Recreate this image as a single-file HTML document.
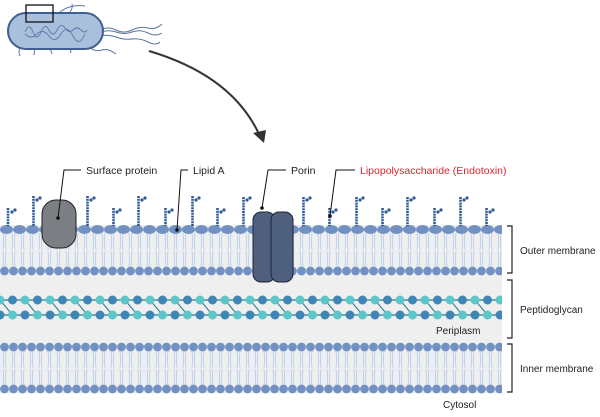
<!DOCTYPE html>
<html><head><style>
body{margin:0;background:#fff;width:600px;height:412px;overflow:hidden}
text{font-family:"Liberation Sans",sans-serif;font-size:10.5px;fill:#222}
</style></head><body>
<svg width="600" height="412" viewBox="0 0 600 412" xmlns="http://www.w3.org/2000/svg">
<defs>
<pattern id="topHeads" x="0" y="224" width="13" height="12" patternUnits="userSpaceOnUse">
<ellipse cx="6.5" cy="5.5" rx="6.5" ry="4.5" fill="#7291c3"/>
</pattern>
<pattern id="circA" x="0" y="265" width="9" height="12" patternUnits="userSpaceOnUse">
<circle cx="4.5" cy="6" r="4.4" fill="#7291c3"/>
</pattern>
<pattern id="circB" x="0" y="341" width="9" height="12" patternUnits="userSpaceOnUse">
<circle cx="4.5" cy="6" r="4.4" fill="#7291c3"/>
</pattern>
<pattern id="circC" x="0" y="383" width="9" height="12" patternUnits="userSpaceOnUse">
<circle cx="4.5" cy="6" r="4.4" fill="#7291c3"/>
</pattern>
<pattern id="tailsO" x="0" y="233" width="9" height="35" patternUnits="userSpaceOnUse">
<path d="M3 0 Q4 8 3 17 M6 0 Q5 8 6 17 M3 18 Q4 26 3 35 M6 18 Q5 26 6 35" stroke="#b0cbef" stroke-width="0.8" fill="none"/>
</pattern>
<pattern id="tailsI" x="0" y="351" width="9" height="35" patternUnits="userSpaceOnUse">
<path d="M3 0 Q4 8 3 17 M6 0 Q5 8 6 17 M3 18 Q4 26 3 35 M6 18 Q5 26 6 35" stroke="#b0cbef" stroke-width="0.8" fill="none"/>
</pattern>
<pattern id="pg" x="-6" y="290" width="50" height="32" patternUnits="userSpaceOnUse">
<line x1="0" y1="10" x2="50" y2="10" stroke="#2a7a8a" stroke-width="1.2"/>
<line x1="0" y1="25" x2="50" y2="25" stroke="#2a7a8a" stroke-width="1.2"/>
<line x1="6" y1="10" x2="18.5" y2="25" stroke="#2a7a8a" stroke-width="1"/>
<line x1="31" y1="10" x2="43.5" y2="25" stroke="#2a7a8a" stroke-width="1"/>
<circle cx="6" cy="10" r="4.5" fill="#5cc6c8"/><circle cx="18.5" cy="10" r="4.5" fill="#3f86b6"/>
<circle cx="31" cy="10" r="4.5" fill="#5cc6c8"/><circle cx="43.5" cy="10" r="4.5" fill="#3f86b6"/>
<circle cx="6" cy="25" r="4.5" fill="#3f86b6"/><circle cx="18.5" cy="25" r="4.5" fill="#5cc6c8"/>
<circle cx="31" cy="25" r="4.5" fill="#3f86b6"/><circle cx="43.5" cy="25" r="4.5" fill="#5cc6c8"/>
</pattern>
</defs>
<g stroke="#3e5f8f" stroke-width="1" fill="none" opacity="0.85">
<path d="M100 30 q8 -4 16 0 t16 0 t16 -2 t14 -4"/>
<path d="M100 33 q8 -4 16 -1 t16 0 t16 1 t14 0"/>
<path d="M100 36 q8 -2 16 1 t16 2 t16 3 t12 0"/>
<path d="M90 48 q6 4 12 2 t14 4"/>
<path d="M60 12 q10 -8 25 -6"/>
<path d="M70 12 q3 -4 2 -8"/>
<path d="M20 48 q-2 4 0 8 M35 48 l-1 7 M50 48 l2 6 M70 48 l1 5"/>
</g>
<rect x="8" y="13" width="95" height="36" rx="18" fill="#a9bfdc" stroke="#3e5f8f" stroke-width="2"/>
<path d="M25 32 q4 -10 8 0 t8 0 t8 -2 t8 0 t8 -2 t8 2 t8 0 t6 0 M25 34 q6 6 12 0 t12 2 t12 -2 t12 2 t12 -2" stroke="#5b7aa8" stroke-width="0.9" fill="none"/>
<rect x="26" y="5" width="27" height="17" fill="none" stroke="#111" stroke-width="1.3"/>
<path d="M149 51 Q230 75 258 132" stroke="#333" stroke-width="2" fill="none"/>
<polygon points="253,133 266,130 264,143" fill="#333"/>
<rect x="0" y="225" width="502" height="168" fill="#efefef"/>
<rect x="0" y="233" width="502" height="35" fill="url(#tailsO)"/>
<rect x="0" y="224" width="502" height="12" fill="url(#topHeads)"/>
<rect x="0" y="265" width="502" height="12" fill="url(#circA)"/>
<rect x="0" y="290" width="502" height="32" fill="url(#pg)"/>
<rect x="0" y="351" width="502" height="35" fill="url(#tailsI)"/>
<rect x="0" y="341" width="502" height="12" fill="url(#circB)"/>
<rect x="0" y="383" width="502" height="12" fill="url(#circC)"/>
<g stroke="#2d5a95" stroke-width="2.6" stroke-dasharray="2 0.8">
<line x1="8" y1="208" x2="8" y2="226"/>
<line x1="33.5" y1="196" x2="33.5" y2="226"/>
<line x1="87.5" y1="196" x2="87.5" y2="226"/>
<line x1="113.5" y1="208" x2="113.5" y2="226"/>
<line x1="138.5" y1="196" x2="138.5" y2="226"/>
<line x1="165.5" y1="208" x2="165.5" y2="226"/>
<line x1="192.5" y1="196" x2="192.5" y2="226"/>
<line x1="217.5" y1="208" x2="217.5" y2="226"/>
<line x1="243.5" y1="197" x2="243.5" y2="226"/>
<line x1="303.5" y1="197" x2="303.5" y2="226"/>
<line x1="329.5" y1="208" x2="329.5" y2="226"/>
<line x1="356.5" y1="197" x2="356.5" y2="226"/>
<line x1="382.5" y1="208" x2="382.5" y2="226"/>
<line x1="407.5" y1="197" x2="407.5" y2="226"/>
<line x1="434.5" y1="208" x2="434.5" y2="226"/>
<line x1="460.5" y1="197" x2="460.5" y2="226"/>
<line x1="486.5" y1="208" x2="486.5" y2="226"/>
</g>
<g fill="#2d5a95">
<circle cx="12" cy="212" r="1.6"/><circle cx="15" cy="210" r="1.6"/>
<circle cx="37" cy="200" r="1.6"/><circle cx="40" cy="198" r="1.6"/>
<circle cx="91" cy="200" r="1.6"/><circle cx="94" cy="198" r="1.6"/>
<circle cx="117" cy="212" r="1.6"/><circle cx="120" cy="210" r="1.6"/>
<circle cx="142" cy="200" r="1.6"/><circle cx="145" cy="198" r="1.6"/>
<circle cx="169" cy="212" r="1.6"/><circle cx="172" cy="210" r="1.6"/>
<circle cx="196" cy="200" r="1.6"/><circle cx="199" cy="198" r="1.6"/>
<circle cx="221" cy="212" r="1.6"/><circle cx="224" cy="210" r="1.6"/>
<circle cx="247" cy="200" r="1.6"/><circle cx="250" cy="198" r="1.6"/>
<circle cx="307" cy="200" r="1.6"/><circle cx="310" cy="198" r="1.6"/>
<circle cx="333" cy="212" r="1.6"/><circle cx="336" cy="210" r="1.6"/>
<circle cx="360" cy="200" r="1.6"/><circle cx="363" cy="198" r="1.6"/>
<circle cx="386" cy="212" r="1.6"/><circle cx="389" cy="210" r="1.6"/>
<circle cx="411" cy="200" r="1.6"/><circle cx="414" cy="198" r="1.6"/>
<circle cx="438" cy="212" r="1.6"/><circle cx="441" cy="210" r="1.6"/>
<circle cx="464" cy="200" r="1.6"/><circle cx="467" cy="198" r="1.6"/>
<circle cx="490" cy="212" r="1.6"/><circle cx="493" cy="210" r="1.6"/>
</g>
<rect x="42" y="200" width="34" height="48" rx="14" fill="#7b7e83" stroke="#222" stroke-width="1"/>
<rect x="253" y="212" width="22" height="70" rx="8" fill="#4f5f7e" stroke="#1c2638" stroke-width="1"/>
<rect x="271" y="212" width="22" height="70" rx="8" fill="#4f5f7e" stroke="#1c2638" stroke-width="1"/>
<g stroke="#111" stroke-width="1" fill="none">
<polyline points="81,170 64,170 58,218"/>
<polyline points="188,170 181,170 177,230"/>
<polyline points="286,170 268,170 262,208"/>
<polyline points="355,170 336,170 330,216"/>
</g>
<g fill="#111"><circle cx="58" cy="218" r="1.8"/><circle cx="177" cy="230" r="1.8"/><circle cx="262" cy="208" r="1.8"/><circle cx="330" cy="216" r="1.8"/></g>
<text x="86" y="174">Surface protein</text>
<text x="193" y="174">Lipid A</text>
<text x="291" y="174">Porin</text>
<text x="360" y="174" style="fill:#d8262c">Lipopolysaccharide (Endotoxin)</text>
<g stroke="#222" stroke-width="1.2" fill="none">
<polyline points="507,226 512,226 512,273 507,273"/>
<polyline points="507,280 512,280 512,338 507,338"/>
<polyline points="507,344 512,344 512,392 507,392"/>
</g>
<g style="font-size:10px">
<text x="520" y="254" style="font-size:10px">Outer membrane</text>
<text x="520" y="313" style="font-size:10px">Peptidoglycan</text>
<text x="520" y="372" style="font-size:10px">Inner membrane</text>
<text x="436" y="334" style="font-size:10px">Periplasm</text>
<text x="443" y="408" style="font-size:10px">Cytosol</text>
</g>
</svg>
</body></html>
